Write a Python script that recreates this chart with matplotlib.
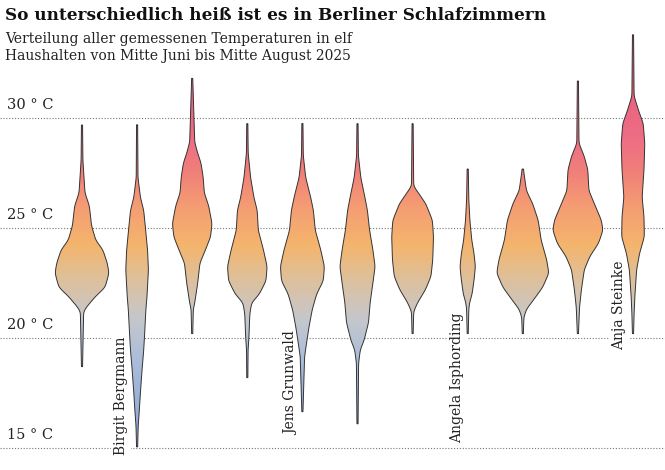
import numpy as np
import matplotlib
matplotlib.use("Agg")
from matplotlib import pyplot as plt
from matplotlib.colors import LinearSegmentedColormap
from matplotlib.patches import Polygon

# Haushalte (von links nach rechts), nur einige sind beschriftet
names = ["", "Birgit Bergmann", "", "", "Jens Grunwald", "", "",
         "Angela Isphording", "", "", "Anja Steinke"]

# Dichteprofil je Haushalt: Temperatur (°C) und relative Breite
t1 = [18.7, 21.2, 21.4, 21.9, 22.3, 22.95, 23.4, 24.0, 24.45, 25.1, 26.0, 26.6, 28.1, 29.7]
w1 = [0.5, 1.5, 4.0, 12.5, 21.0, 24.5, 23.0, 19.0, 12.5, 8.7, 6.7, 2.7, 0.8, 0.5]
t2 = [15.05, 16.0, 16.7, 17.5, 18.55, 19.45, 20.05, 21.3, 21.9, 23.1, 24.0, 25.05, 25.8, 26.4, 27.3, 29.7]
w2 = [0.5, 1.0, 2.0, 3.0, 4.5, 6.0, 6.7, 8.0, 9.0, 10.3, 9.5, 7.5, 6.0, 3.0, 0.8, 0.5]
t3 = [20.2, 21.3, 21.6, 22.5, 23.4, 24.0, 24.6, 25.2, 26.0, 26.6, 27.3, 27.95, 28.4, 28.9, 31.8]
w3 = [0.5, 1.0, 2.3, 5.0, 7.0, 12.0, 16.7, 18.0, 15.0, 11.0, 10.0, 8.0, 5.0, 2.3, 0.5]
t4 = [18.2, 19.45, 20.05, 21.1, 21.6, 22.0, 22.6, 23.25, 24.0, 24.9, 25.8, 26.4, 27.3, 28.4, 29.75]
w4 = [0.5, 0.7, 1.5, 2.3, 4.0, 11.0, 17.0, 18.0, 14.7, 10.0, 9.0, 6.0, 3.0, 0.8, 0.5]
t5 = [16.65, 19.15, 19.75, 20.5, 21.3, 22.0, 22.6, 23.25, 24.0, 24.9, 25.8, 26.4, 27.3, 28.3, 29.75]
w5 = [0.5, 2.0, 3.7, 6.0, 9.0, 13.0, 19.0, 20.0, 16.7, 11.7, 10.0, 7.5, 3.0, 0.8, 0.5]
t6 = [16.1, 18.85, 19.45, 19.9, 20.7, 21.6, 22.5, 23.25, 24.0, 24.9, 25.8, 26.4, 27.3, 28.3, 29.75]
w6 = [0.5, 1.0, 2.5, 6.0, 10.0, 11.5, 14.0, 16.0, 14.0, 11.0, 9.0, 6.7, 3.0, 0.8, 0.5]
t7 = [20.2, 21.2, 21.6, 22.2, 22.8, 23.55, 24.6, 25.35, 26.1, 26.65, 26.9, 29.75]
w7 = [0.5, 1.0, 4.5, 11.7, 16.7, 18.3, 19.0, 18.0, 12.0, 4.5, 1.0, 0.5]
t8 = [20.2, 21.3, 21.6, 22.0, 22.65, 23.25, 23.85, 24.45, 25.35, 26.3, 27.7]
w8 = [0.5, 1.0, 1.7, 4.0, 5.8, 7.0, 5.7, 3.7, 2.0, 1.0, 0.5]
t9 = [20.2, 20.95, 21.3, 21.75, 22.3, 22.95, 23.55, 24.45, 25.35, 26.1, 26.7, 27.7]
w9 = [0.5, 1.0, 3.3, 10.0, 18.0, 23.7, 21.7, 16.7, 14.0, 9.0, 3.3, 0.5]
t10 = [20.2, 21.4, 22.2, 23.1, 23.7, 24.3, 24.9, 25.35, 26.1, 26.7, 27.65, 28.25, 28.85, 31.7]
w10 = [0.5, 1.5, 3.2, 5.8, 10.8, 18.7, 22.8, 21.3, 15.0, 10.0, 9.0, 5.8, 1.0, 0.5]
t11 = [20.2, 21.1, 21.9, 23.1, 23.85, 24.6, 25.5, 26.4, 27.65, 28.85, 29.75, 30.35, 31.0, 33.8]
w11 = [0.5, 1.0, 1.7, 3.3, 6.0, 10.3, 10.0, 8.3, 10.0, 10.7, 9.3, 5.0, 1.0, 0.5]

temps = [t1, t2, t3, t4, t5, t6, t7, t8, t9, t10, t11]
widths = [w1, w2, w3, w4, w5, w6, w7, w8, w9, w10, w11]

grid_temps = [15, 20, 25, 30]
grid_labels = ["15 ° C", "20 ° C", "25 ° C", "30 ° C"]

# Farbverlauf nach Temperatur
tmin, tmax = 15.0, 34.0
stops = [(15.0, "#8fa8d7"), (17.5, "#9db4d9"), (19.3, "#aebfd8"), (20.8, "#c5c7cc"),
         (22.5, "#dcc1a0"), (24.2, "#f4b56c"), (26.0, "#f59c74"), (27.5, "#f08079"),
         (29.0, "#ee6e84"), (32.0, "#e95e80"), (34.0, "#e65478")]
cmap = LinearSegmentedColormap.from_list(
    "temp", [((t - tmin) / (tmax - tmin), c) for t, c in stops])

W, H = 665, 470
fig = plt.figure(figsize=(W / 100, H / 100), dpi=100)
ax = fig.add_axes([0, 0, 1, 1])
px_per_cat = 55.1
scale = 1.1
ax.set_xlim(-82 / px_per_cat, 10 + (W - 633) / px_per_cat)
ax.set_ylim(15 - 22 / 22, 15 + 448 / 22)
ax.axis("off")

serif = "DejaVu Serif"

# Gitterlinien
for t in grid_temps:
    ax.axhline(t, color="#777777", lw=0.8, ls=(0, (1, 1.6)), zorder=1)
for t, lab in zip(grid_temps, grid_labels):
    ax.text(7 / W, 1 - (448 - (t - 15) * 22 - 6) / H, lab, fontsize=10.5,
            family=serif, color="#222222", va="bottom", ha="left", zorder=2,
            transform=fig.transFigure)

grad = np.linspace(tmin, tmax, 400).reshape(-1, 1)
xl = ax.get_xlim()
yl = ax.get_ylim()

for i, (t, w) in enumerate(zip(temps, widths)):
    # feineres Raster nur fürs Zeichnen, leicht geglättet
    tt = np.arange(t[0], t[-1], 0.02)
    ww = np.interp(tt, t, w)
    k = np.exp(-0.5 * (np.arange(-15, 16) / 5.0) ** 2)
    k /= k.sum()
    ww = np.convolve(np.pad(ww, 15, mode="edge"), k, mode="valid")
    hw = ww * scale / px_per_cat
    xs = np.concatenate([i - hw, (i + hw)[::-1]])
    ys = np.concatenate([tt, tt[::-1]])
    poly = Polygon(np.column_stack([xs, ys]), closed=True, facecolor="none",
                   edgecolor="#333333", lw=0.7, zorder=4)
    ax.add_patch(poly)
    im = ax.imshow(grad, cmap=cmap, vmin=tmin, vmax=tmax, origin="lower",
                   extent=[xl[0], xl[1], tmin, tmax], aspect="auto", zorder=3,
                   interpolation="bilinear")
    im.set_clip_path(poly)

ax.set_xlim(xl)
ax.set_ylim(yl)

# Namen der Haushalte (senkrecht)
label_pos = {1: (121, 455), 4: (291, 435), 7: (457, 443), 10: (619, 350)}
for i, (xp, yp) in label_pos.items():
    ax.text(xp / W, 1 - yp / H, names[i], rotation=90, fontsize=10,
            family=serif, color="#222222", ha="center", va="bottom",
            bbox=dict(facecolor="white", edgecolor="none", pad=2), zorder=2,
            transform=fig.transFigure)

fig.text(5 / W, 1 - 7 / H, "So unterschiedlich heiß ist es in Berliner Schlafzimmern",
         fontsize=12.2, fontweight="bold", family=serif, color="#111111",
         va="top", ha="left")
fig.text(5 / W, 1 - 32 / H,
         "Verteilung aller gemessenen Temperaturen in elf\nHaushalten von Mitte Juni bis Mitte August 2025",
         fontsize=10, family=serif, color="#222222", va="top", ha="left",
         linespacing=1.3)

fig.savefig("out.png", dpi=100)
